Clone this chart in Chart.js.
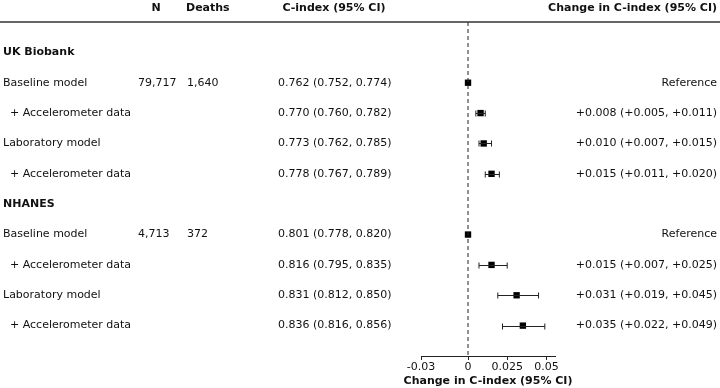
<!DOCTYPE html>
<html>
<head>
<meta charset="utf-8">
<script src="https://cdn.jsdelivr.net/npm/chart.js@4"></script>
<style>
  body { margin: 0; background: #fff; }
  #wrap { width: 720px; height: 388px; }
</style>
</head>
<body>
<div id="wrap"><canvas id="c" width="720" height="388"></canvas></div>
<script>
// rows, top to bottom
const rowLabels = ['UK Biobank', 'Baseline model', '+ Accelerometer data', 'Laboratory model', '+ Accelerometer data',
                   'NHANES', 'Baseline model', '+ Accelerometer data', 'Laboratory model', '+ Accelerometer data'];
const isHeading = [true, false, false, false, false, true, false, false, false, false];
const nCol      = ['', '79,717', '', '', '', '', '4,713', '', '', ''];
const deathsCol = ['', '1,640', '', '', '', '', '372', '', '', ''];
const cIndexCol = ['', '0.762 (0.752, 0.774)', '0.770 (0.760, 0.782)', '0.773 (0.762, 0.785)', '0.778 (0.767, 0.789)',
                   '', '0.801 (0.778, 0.820)', '0.816 (0.795, 0.835)', '0.831 (0.812, 0.850)', '0.836 (0.816, 0.856)'];
const changeCol = ['', 'Reference', '+0.008 (+0.005, +0.011)', '+0.010 (+0.007, +0.015)', '+0.015 (+0.011, +0.020)',
                   '', 'Reference', '+0.015 (+0.007, +0.025)', '+0.031 (+0.019, +0.045)', '+0.035 (+0.022, +0.049)'];
const estimate  = [null, 0, 0.008, 0.010, 0.015, null, 0, 0.015, 0.031, 0.035];
const lower     = [null, 0, 0.005, 0.007, 0.011, null, 0, 0.007, 0.019, 0.022];
const upper     = [null, 0, 0.011, 0.015, 0.020, null, 0, 0.025, 0.045, 0.049];
const xTicks    = [-0.03, 0, 0.025, 0.05];
const headers   = ['N', 'Deaths', 'C-index (95% CI)', 'Change in C-index (95% CI)'];
const xTitle    = 'Change in C-index (95% CI)';

const FONT = '"DejaVu Sans"';
const points = [];
estimate.forEach((v, i) => { if (v !== null) points.push({x: v, y: i}); });

const tablePlugin = {
  id: 'table',
  afterDraw(chart) {
    const ctx = chart.ctx;
    const y = chart.scales.y;
    const x = chart.scales.x;
    ctx.save();
    // error bars
    ctx.strokeStyle = '#222';
    ctx.lineWidth = 1;
    estimate.forEach((v, i) => {
      if (v === null || lower[i] === upper[i]) return;
      const py = Math.round(y.getPixelForValue(i)) + 0.5;
      const x1 = x.getPixelForValue(lower[i]), x2 = x.getPixelForValue(upper[i]);
      ctx.beginPath();
      ctx.moveTo(x1, py); ctx.lineTo(x2, py);
      ctx.moveTo(x1, py - 3); ctx.lineTo(x1, py + 3);
      ctx.moveTo(x2, py - 3); ctx.lineTo(x2, py + 3);
      ctx.stroke();
    });
    // header
    ctx.fillStyle = '#111';
    ctx.textBaseline = 'middle';
    ctx.font = 'bold 11px ' + FONT;
    ctx.textAlign = 'center';
    ctx.fillText(headers[0], 156, 8);
    ctx.textAlign = 'left';
    ctx.fillText(headers[1], 186, 8);
    ctx.textAlign = 'center';
    ctx.fillText(headers[2], 334, 8);
    ctx.textAlign = 'right';
    ctx.fillText(headers[3], 717, 8);
    // x axis title, centred under the axis
    ctx.textAlign = 'center';
    ctx.fillText(xTitle, (x.left + x.right) / 2, 381);
    ctx.strokeStyle = '#333';
    ctx.lineWidth = 1.5;
    ctx.beginPath();
    ctx.moveTo(0, 22); ctx.lineTo(720, 22);
    ctx.stroke();
    // rows
    rowLabels.forEach((lab, i) => {
      const py = y.getPixelForValue(i);
      ctx.textAlign = 'left';
      if (isHeading[i]) {
        ctx.font = 'bold 11px ' + FONT;
        ctx.fillText(lab, 3, py);
        return;
      }
      ctx.font = '11px ' + FONT;
      ctx.fillText(lab, lab.startsWith('+') ? 10 : 3, py);
      ctx.fillText(nCol[i], 138, py);
      ctx.fillText(deathsCol[i], 187, py);
      ctx.fillText(cIndexCol[i], 278, py);
      ctx.textAlign = 'right';
      ctx.fillText(changeCol[i], 717, py);
    });
    ctx.restore();
  }
};

new Chart(document.getElementById('c'), {
  type: 'scatter',
  data: {
    datasets: [
      {
        data: [{x: 0, y: -1}, {x: 0, y: 10}],
        showLine: true,
        borderColor: '#222',
        borderWidth: 1,
        borderDash: [4, 3],
        pointRadius: 0
      },
      {
        data: points,
        pointStyle: 'rect',
        pointRadius: 4.5,
        backgroundColor: '#000',
        borderColor: '#000',
        borderWidth: 0
      }
    ]
  },
  options: {
    responsive: false,
    animation: false,
    layout: { padding: { left: 421, right: 165, top: 22, bottom: 0 } },
    plugins: { legend: { display: false }, tooltip: { enabled: false } },
    scales: {
      x: {
        type: 'linear',
        min: -0.03,
        max: 0.0555,
        afterBuildTicks: (s) => { s.ticks = xTicks.map(v => ({value: v})); },
        afterFit: (s) => { s.height = 32; },
        grid: { drawOnChartArea: false, drawTicks: true, tickLength: 4, color: '#222' },
        border: { display: true, color: '#222', width: 1 },
        ticks: {
          color: '#111',
          font: { family: FONT, size: 11 },
          padding: 1,
          maxRotation: 0,
          callback: (v) => String(v)
        },
        title: { display: false }
      },
      y: {
        type: 'linear',
        display: false,
        reverse: true,
        min: -1,
        max: 10
      }
    }
  },
  plugins: [tablePlugin]
});
</script>
</body>
</html>
